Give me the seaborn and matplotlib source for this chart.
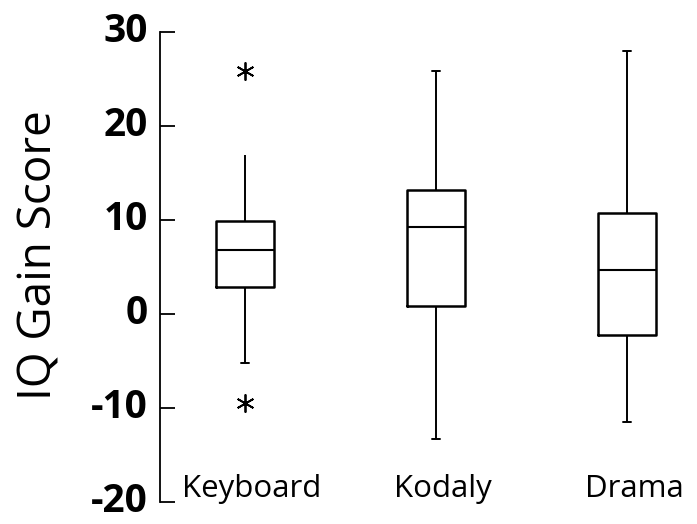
import numpy as np
import pandas as pd
import seaborn as sns
import matplotlib.pyplot as plt
import matplotlib.transforms as mtransforms

# groups and scores (values picked so the box stats match the picture:
# whiskers, quartiles, median and the outliers)
groups = ["Keyboard", "Kodaly", "Drama"]
keyboard_scores = [-9.5, -5.2, 2.9, 2.9, 6.8, 9.9, 9.9, 16.9, 25.9]
kodaly_scores = [-13.3, 0.8, 9.3, 13.2, 25.9]
drama_scores = [-11.5, -2.2, 4.7, 10.7, 28.0]
y_ticks = [-20, -10, 0, 10, 20, 30]

df = pd.DataFrame({
    "Group": ["Keyboard"] * len(keyboard_scores)
             + ["Kodaly"] * len(kodaly_scores)
             + ["Drama"] * len(drama_scores),
    "Score": keyboard_scores + kodaly_scores + drama_scores,
})

sns.set_style("white")
plt.rcParams['font.family'] = ['Open Sans', 'DejaVu Sans']
plt.rcParams['text.color'] = 'black'
plt.rcParams['axes.labelcolor'] = 'black'

fig = plt.figure(figsize=(6.97, 5.24), dpi=100)
ax = fig.add_axes([0.2296, 0.042, 0.7704, 0.897])

sns.boxplot(data=df, x="Group", y="Score", order=groups, ax=ax,
            fill=False, width=0.3, color="black", linecolor="black",
            linewidth=1.4,
            boxprops=dict(linewidth=1.8),
            medianprops=dict(linewidth=1.5),
            whiskerprops=dict(linewidth=1.4),
            capprops=dict(linewidth=1.4),
            flierprops=dict(marker=(6, 2, 0), markersize=13,
                            markeredgecolor="black", markeredgewidth=1.3))

# shrink the whisker caps
for ln in ax.lines:
    x = np.asarray(ln.get_xdata(), dtype=float)
    y = np.asarray(ln.get_ydata(), dtype=float)
    if len(x) == 2 and y[0] == y[1] and abs(x[1] - x[0]) < 0.2 and abs(x[1] - x[0]) > 0:
        c = x.mean()
        ln.set_xdata([c - 0.02, c + 0.02])
        # keyboard's top cap is not drawn in the reference
        if y[0] == max(keyboard_scores[:-1]):
            ln.set_visible(False)

ax.set_ylim(-20, 30)
ax.set_xlim(-0.445, 2.367)
ax.set_yticks(y_ticks)
ax.set_yticklabels([str(t) for t in y_ticks], fontsize=28, fontweight="bold",
                   va="center")
ax.set_xticks(range(len(groups)))
ax.set_xticklabels(groups, fontsize=22.5)
ax.tick_params(axis="y", left=True, direction="in", length=11, width=1.3,
               pad=9, colors="black")
ax.tick_params(axis="x", bottom=False, length=0, pad=-20.5, colors="black")

# nudge the group names a little to the right like the original
shift = mtransforms.ScaledTranslation(7 / 100, 0, fig.dpi_scale_trans)
for lab in ax.get_xticklabels():
    lab.set_transform(lab.get_transform() + shift)

ax.set_xlabel("")
ax.set_ylabel("IQ Gain Score", fontsize=33)
ax.yaxis.set_label_coords(-0.182, 0.525)

for s in ["top", "right", "bottom"]:
    ax.spines[s].set_visible(False)
ax.spines["left"].set_linewidth(1.3)
ax.spines["left"].set_color("black")

fig.savefig("out.png", dpi=100)
